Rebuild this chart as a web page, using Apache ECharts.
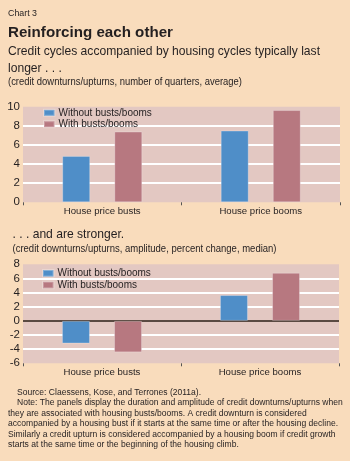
<!DOCTYPE html>
<html>
<head>
<meta charset="utf-8">
<script src="https://cdn.jsdelivr.net/npm/echarts@6/dist/echarts.min.js"></script>
<style>
  html, body { margin: 0; padding: 0; background: #f9dcbc; }
  #chart { width: 350px; height: 461px; }
</style>
</head>
<body>
<div id="chart"></div>
<script>
// data
var categories = ['House price busts', 'House price booms'];
var seriesNames = ['Without busts/booms', 'With busts/booms'];
var durationWithout = [4.85, 7.5];
var durationWith = [7.4, 9.65];
var amplitudeWithout = [-3.2, 3.65];
var amplitudeWith = [-4.45, 6.8];

var noteLines = [
  'Source: Claessens, Kose, and Terrones (2011a).',
  'Note: The panels display the duration and amplitude of credit downturns/upturns when',
  'they are associated with housing busts/booms. A credit downturn is considered',
  'accompanied by a housing bust if it starts at the same time or after the housing decline.',
  'Similarly a credit upturn is considered accompanied by a housing boom if credit growth',
  'starts at the same time or the beginning of the housing climb.'
];

var FONT = '"Liberation Sans", Arial, sans-serif';
var blue = '#4f8ec8';
var red = '#b77880';
var plotBg = '#e3c8c2';
var ink = '#231f20';

// the original uses a condensed face, so squeeze the text horizontally
var ctx = document.createElement('canvas').getContext('2d');
function squeeze(text, font, width) {
  ctx.font = font;
  return width / ctx.measureText(text).width;
}
function label(text, x, y, font, sx) {
  return {
    type: 'text', x: x, y: y, scaleX: sx, silent: true,
    style: { text: text, font: font, fill: ink, textVerticalAlign: 'middle', verticalAlign: 'middle' }
  };
}

var fTitle = 'bold 15px ' + FONT;
var fSub = '13px ' + FONT;
var fUnit = '10px ' + FONT;
var fNote = '9.6px ' + FONT;
var subScale = squeeze('Credit cycles accompanied by housing cycles typically last', fSub, 312);
var noteScale = squeeze(noteLines[3], fNote, 330);

var graphics = [
  label('Chart 3', 8, 13, '9.5px ' + FONT, squeeze('Chart 3', '9.5px ' + FONT, 29)),
  label('Reinforcing each other', 8, 32.5, fTitle, squeeze('Reinforcing each other', fTitle, 165)),
  label('Credit cycles accompanied by housing cycles typically last', 8, 51, fSub, subScale),
  label('longer . . .', 8, 68, fSub, subScale),
  label('(credit downturns/upturns, number of quarters, average)', 8, 82.5, fUnit,
    squeeze('(credit downturns/upturns, number of quarters, average)', fUnit, 234)),
  label('. . . and are stronger.', 12.5, 234, fSub, subScale),
  label('(credit downturns/upturns, amplitude, percent change, median)', 12.5, 249, fUnit,
    squeeze('(credit downturns/upturns, amplitude, percent change, median)', fUnit, 264))
];
var noteY = [392.3, 402.8, 413.3, 423.8, 434.3, 444.8];
var noteX = [17, 17, 8, 8, 8, 8];
noteLines.forEach(function (t, i) {
  graphics.push(label(t, noteX[i], noteY[i], fNote, noteScale));
});

var myChart = echarts.init(document.getElementById('chart'));

var option = {
  backgroundColor: '#f9dcbc',
  textStyle: { fontFamily: FONT },
  graphic: graphics,
  legend: [
    {
      data: seriesNames, orient: 'vertical', left: 43, top: 107.2, padding: 0,
      itemWidth: 10.5, itemHeight: 6, itemGap: 0,
      icon: 'rect',
      textStyle: { fontFamily: FONT, fontSize: 10, lineHeight: 11.3, color: ink, padding: [0, 0, 0, -1] }
    },
    {
      data: seriesNames, orient: 'vertical', left: 42, top: 267.5, padding: 0,
      itemWidth: 10.5, itemHeight: 6.5, itemGap: 0,
      icon: 'rect',
      textStyle: { fontFamily: FONT, fontSize: 10, lineHeight: 11.7, color: ink, padding: [0, 0, 0, -1] }
    }
  ],
  grid: [
    { left: 23, right: 10, top: 106.7, height: 95.6, show: true, backgroundColor: plotBg, borderWidth: 0 },
    { left: 23, right: 11, top: 264.3, height: 99, show: true, backgroundColor: plotBg, borderWidth: 0 }
  ],
  xAxis: [
    {
      type: 'category', gridIndex: 0, data: categories,
      axisLine: { show: false },
      axisTick: { show: true, length: 3, lineStyle: { color: '#555' } },
      axisLabel: { fontFamily: FONT, fontSize: 9.6, color: ink, margin: 4 }
    },
    {
      type: 'category', gridIndex: 1, data: categories,
      axisLine: { show: false, onZero: false },
      axisTick: { show: true, length: 3, lineStyle: { color: '#555' } },
      axisLabel: { fontFamily: FONT, fontSize: 9.6, color: ink, margin: 4 }
    }
  ],
  yAxis: [
    {
      type: 'value', gridIndex: 0, min: 0, max: 10, interval: 2,
      axisLine: { show: false }, axisTick: { show: false },
      axisLabel: { fontFamily: FONT, fontSize: 11.5, color: ink, margin: 3 },
      splitLine: { lineStyle: { width: 2, color: ['transparent', '#fff', '#fff', '#fff', '#fff', 'transparent'] } }
    },
    {
      type: 'value', gridIndex: 1, min: -6, max: 8, interval: 2,
      axisLine: { show: false }, axisTick: { show: false },
      axisLabel: { fontFamily: FONT, fontSize: 11.5, color: ink, margin: 3 },
      splitLine: { lineStyle: { width: 2, color: ['transparent', '#fff', '#fff', '#5a4a42', '#fff', '#fff', '#fff', 'transparent'] } }
    }
  ],
  series: [
    {
      name: seriesNames[0], type: 'bar', xAxisIndex: 0, yAxisIndex: 0,
      data: durationWithout, barWidth: 28, barGap: '86%',
      itemStyle: { color: blue, borderColor: 'rgba(255,255,255,0.25)', borderWidth: 1 }
    },
    {
      name: seriesNames[1], type: 'bar', xAxisIndex: 0, yAxisIndex: 0,
      data: durationWith, barWidth: 28, barGap: '86%',
      itemStyle: { color: red, borderColor: 'rgba(255,255,255,0.25)', borderWidth: 1 }
    },
    {
      name: seriesNames[0], type: 'bar', xAxisIndex: 1, yAxisIndex: 1,
      data: amplitudeWithout, barWidth: 28, barGap: '86%',
      itemStyle: { color: blue, borderColor: 'rgba(255,255,255,0.25)', borderWidth: 1 }
    },
    {
      name: seriesNames[1], type: 'bar', xAxisIndex: 1, yAxisIndex: 1,
      data: amplitudeWith, barWidth: 28, barGap: '86%',
      itemStyle: { color: red, borderColor: 'rgba(255,255,255,0.25)', borderWidth: 1 }
    }
  ]
};
myChart.setOption(option);
</script>
</body>
</html>
